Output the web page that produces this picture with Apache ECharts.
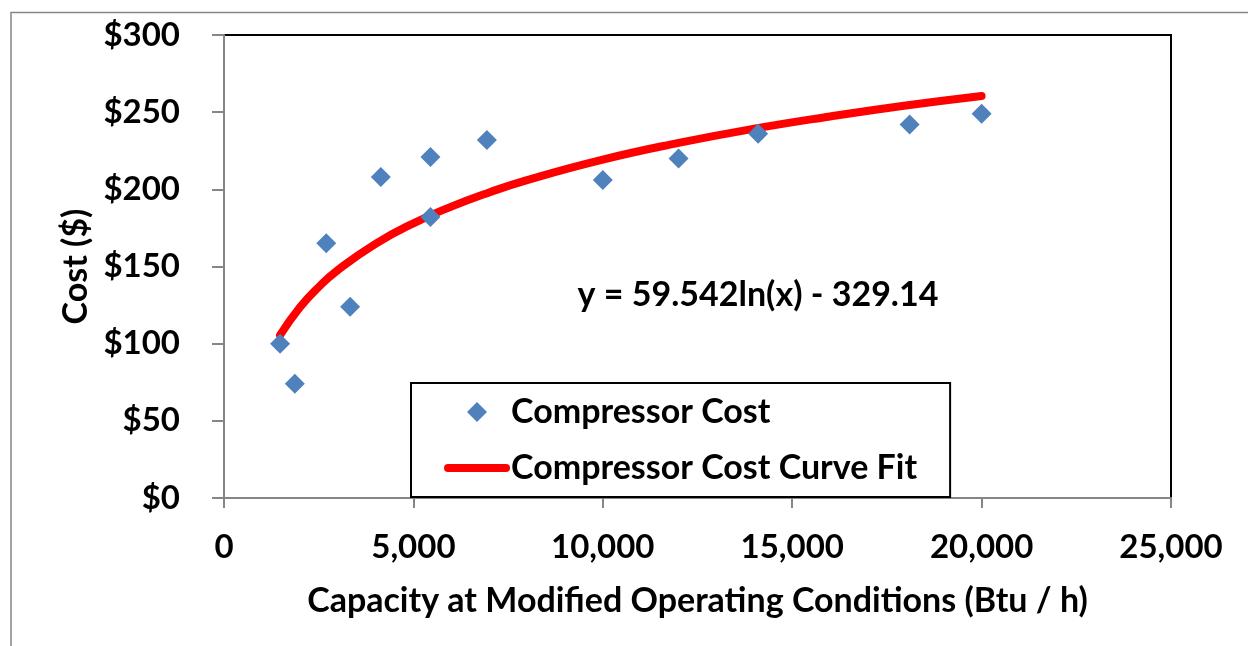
<!DOCTYPE html>
<html>
<head>
<meta charset="utf-8">
<script src="https://cdn.jsdelivr.net/npm/echarts@6/dist/echarts.min.js"></script>
<style>
html,body{margin:0;padding:0;background:#fff;}
#chart{width:1248px;height:646px;}
</style>
</head>
<body>
<div id="chart"></div>
<script>
// Compressor cost data (capacity Btu/h, cost $)
const capacity = [1480, 1870, 2700, 3330, 4140, 5450, 5450, 6940, 10000, 12000, 14100, 18100, 20000];
const cost = [100, 74, 165, 124, 208, 221, 182, 232, 206, 220, 236, 242, 249];
// Curve fit points
const fitX = [1480, 2000, 2500, 3000, 4000, 5000, 6000, 7000, 8000, 10000, 12000, 14000, 16000, 18000, 20000];
const fitY = [105.5, 123.4, 136.7, 147.6, 164.7, 178.0, 188.8, 198.0, 206.0, 219.3, 230.1, 239.3, 247.2, 254.3, 260.5];
const yTicks = [0, 50, 100, 150, 200, 250, 300];
const xTicks = [0, 5000, 10000, 15000, 20000, 25000];
const seriesNames = ['Compressor Cost', 'Compressor Cost Curve Fit'];
const equationText = 'y = 59.542ln(x) - 329.14';

const FONT = 'Lato';
const chart = echarts.init(document.getElementById('chart'));
const option = {
  animation: false,
  backgroundColor: '#ffffff',
  textStyle: { fontFamily: FONT },
  grid: {
    left: 224, right: 77, top: 35, bottom: 148,
    show: true, borderColor: '#000000', borderWidth: 2, backgroundColor: 'transparent'
  },
  xAxis: {
    type: 'value', min: xTicks[0], max: xTicks[xTicks.length - 1], interval: 5000,
    name: 'Capacity at Modified Operating Conditions (Btu / h)',
    nameLocation: 'middle', nameGap: 86,
    nameTextStyle: { fontFamily: FONT, fontWeight: 'bold', fontSize: 34, color: '#000' },
    axisLine: { lineStyle: { color: '#868686', width: 2 } },
    axisTick: { show: true, length: 10, lineStyle: { color: '#868686', width: 2 } },
    splitLine: { show: false },
    axisLabel: {
      margin: 33, fontFamily: FONT, fontWeight: 'bold', fontSize: 33, color: '#000',
      formatter: v => v.toLocaleString('en-US')
    }
  },
  yAxis: {
    type: 'value', min: yTicks[0], max: yTicks[yTicks.length - 1], interval: 50,
    name: 'Cost ($)',
    nameLocation: 'middle', nameGap: 122,
    nameTextStyle: { fontFamily: FONT, fontWeight: 'bold', fontSize: 34, color: '#000' },
    axisLine: { show: true, lineStyle: { color: '#868686', width: 2 } },
    axisTick: { show: true, length: 12, lineStyle: { color: '#868686', width: 2 } },
    splitLine: { show: false },
    axisLabel: {
      margin: 44, fontFamily: FONT, fontWeight: 'bold', fontSize: 33, color: '#000',
      formatter: v => '$' + v
    }
  },
  legend: {
    orient: 'vertical',
    left: 411, top: 383,
    padding: [9, 33, 9, 33],
    itemWidth: 58, itemHeight: 20, itemGap: 16,
    borderColor: '#000', borderWidth: 2, backgroundColor: '#fff',
    symbolKeepAspect: true,
    textStyle: { fontFamily: FONT, fontWeight: 'bold', fontSize: 34, color: '#000', lineHeight: 40 },
    lineStyle: { width: 8, cap: 'round' },
    data: [
      { name: seriesNames[0], icon: 'path://M0,0 L0,0 M58,20 L58,20 M19,10 L29,0 L39,10 L29,20 Z' },
      { name: seriesNames[1], itemStyle: { opacity: 0 } }
    ]
  },
  graphic: [
    {
      type: 'rect', silent: true, z: -1,
      shape: { x: 11, y: 12.5, width: 1300, height: 700 },
      style: { fill: 'none', stroke: '#868686', lineWidth: 1.5 }
    },
    {
      type: 'text', x: 758, y: 295, silent: true,
      style: {
        text: equationText, fill: '#000',
        font: 'bold 34px ' + FONT, textAlign: 'center', textVerticalAlign: 'middle'
      }
    }
  ],
  series: [
    {
      name: seriesNames[0], type: 'scatter',
      symbol: 'diamond', symbolSize: 20,
      itemStyle: { color: '#4F81BD', opacity: 1 },
      data: capacity.map((x, i) => [x, cost[i]]),
      z: 3
    },
    {
      name: seriesNames[1], type: 'line', smooth: true,
      showSymbol: false, symbol: 'none',
      lineStyle: { color: '#FF0000', width: 8, cap: 'round' },
      itemStyle: { color: '#FF0000' },
      data: fitX.map((x, i) => [x, fitY[i]]),
      z: 2
    }
  ]
};
chart.setOption(option);
</script>
</body>
</html>
